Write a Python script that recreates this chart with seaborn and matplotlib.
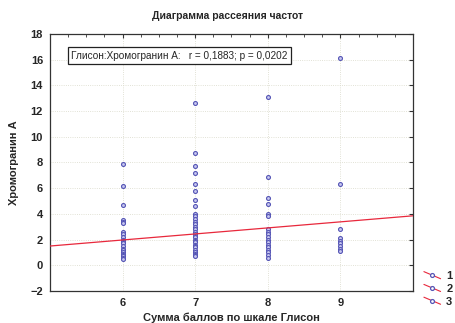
import numpy as np
import pandas as pd
import matplotlib
matplotlib.use('Agg')
import matplotlib.pyplot as plt
import seaborn as sns
from matplotlib.lines import Line2D
from matplotlib.legend_handler import HandlerBase
from matplotlib.ticker import MultipleLocator

# данные: сумма баллов Глисона и уровень хромогранина А
gleason_6 = [7.9, 6.2, 4.7, 3.5, 3.4, 3.3, 2.6, 2.4, 2.2, 2.0, 1.9, 1.8, 1.7,
             1.5, 1.3, 1.2, 1.0, 0.9, 0.8, 0.7, 0.6, 0.5]
gleason_7 = [12.6, 8.7, 7.7, 7.2, 6.3, 5.8, 5.1, 4.6, 4.0, 3.8, 3.6, 3.4, 3.2,
             3.0, 2.8, 2.6, 2.4, 2.3, 2.2, 2.0, 1.9, 1.8, 1.6, 1.5, 1.4, 1.2,
             1.0, 0.9, 0.8, 0.7]
gleason_8 = [13.1, 6.9, 5.2, 4.8, 4.0, 3.8, 2.8, 2.6, 2.4, 2.2, 2.0, 1.8, 1.6,
             1.4, 1.2, 1.0, 0.8, 0.6]
gleason_9 = [16.1, 6.3, 2.8, 2.1, 1.9, 1.7, 1.5, 1.3, 1.1]

# коэффициенты линии регрессии
fit_intercept = -0.85
fit_slope = 0.47

legend_labels = ['1', '2', '3']
stat_text = 'Глисон:Хромогранин А:   r = 0,1883; p = 0,0202'

groups = {6: gleason_6, 7: gleason_7, 8: gleason_8, 9: gleason_9}
df = pd.DataFrame([(k, v) for k, vals in groups.items() for v in vals],
                  columns=['gleason', 'cga'])

sns.set_style("white")
plt.rcParams['font.family'] = ['Liberation Sans', 'DejaVu Sans']
plt.rcParams['font.weight'] = 'bold'

POINT = '#5555b5'
LINE = '#e8283c'


class DiagHandler(HandlerBase):
    def create_artists(self, legend, orig_handle, xdescent, ydescent,
                       width, height, fontsize, trans):
        x0, x1 = -xdescent, width - xdescent
        y0, y1 = -ydescent, height - ydescent
        ln = Line2D([x0, x1], [y1, y0], color=LINE, lw=0.8, transform=trans)
        mk = Line2D([(x0 + x1) / 2], [(y0 + y1) / 2], marker='o', ms=2.8,
                    mfc='white', mec=POINT, mew=0.9, ls='none', transform=trans)
        return [ln, mk]


fig = plt.figure(figsize=(4.56, 3.23), dpi=100)
ax = fig.add_axes([0.1096, 0.099, 0.796, 0.796])

sns.scatterplot(data=df, x='gleason', y='cga', ax=ax, marker='o', s=8,
                facecolor='#c8c8f0', edgecolor=POINT, linewidth=0.8, zorder=3)

ax.set_xlim(5, 10)
ax.set_ylim(-2, 18)
xs = np.array(ax.get_xlim())
ax.plot(xs, fit_intercept + fit_slope * xs, color=LINE, lw=0.9, zorder=4)

ax.set_xticks([6, 7, 8, 9])
ax.set_yticks(np.arange(-2, 19, 2))
ax.xaxis.set_minor_locator(MultipleLocator(0.25))
ax.tick_params(which='both', direction='in', top=True, right=True,
               labelsize=8, color='#333333', pad=5)
ax.tick_params(which='major', length=3)
ax.tick_params(which='minor', length=2)
ax.grid(True, which='major', color='#d8d8c8', lw=0.6, ls=':')
for s in ax.spines.values():
    s.set_color('#333333')
    s.set_linewidth(0.9)

ax.set_xlabel('Сумма баллов по шкале Глисон', fontsize=8, fontweight='bold',
              labelpad=3)
ax.set_ylabel('Хромогранин А', fontsize=8, fontweight='bold', labelpad=8)
fig.suptitle('Диаграмма рассеяния частот', fontsize=7.5, fontweight='bold',
             y=0.965)

ax.text(0.058, 0.935, stat_text, transform=ax.transAxes, fontsize=7.2,
        va='top', ha='left', fontweight='normal',
        bbox=dict(boxstyle='square,pad=0.35', fc='white', ec='#222222', lw=0.9))

handles = [Line2D([], []) for _ in legend_labels]
fig.legend(handles, legend_labels, handler_map={Line2D: DiagHandler()},
           loc='lower left', bbox_to_anchor=(0.915, 0.03), frameon=False,
           fontsize=8, handlelength=1.5, handleheight=0.6, handletextpad=0.5,
           labelspacing=0.25, borderpad=0.1)

fig.savefig('out.png', dpi=100, facecolor='white')
